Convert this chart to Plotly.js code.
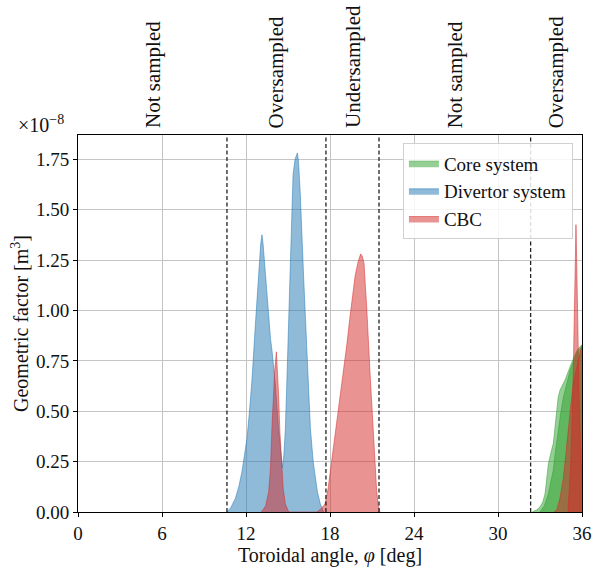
<!DOCTYPE html>
<html>
<head>
<meta charset="utf-8">
<script src="https://cdn.plot.ly/plotly-3.0.1.min.js"></script>
<style>
  html, body { margin: 0; padding: 0; background: #ffffff; }
  #chart { width: 593px; height: 572px; }
</style>
</head>
<body>
<div id="chart"></div>
<script>
// Values of the geometric factor are in units of 1e-8 m^3
// Core system (two overlapping lines of sight)
var coreAx = [32.45, 32.75, 33.0, 33.2, 33.36, 33.5, 33.6, 33.8, 33.95, 34.1, 34.19, 34.3, 34.43, 34.6, 34.79, 35.14, 35.4, 35.62, 35.85, 36.0];
var coreAy = [0, 0.01, 0.025, 0.05, 0.09, 0.17, 0.24, 0.30, 0.34, 0.44, 0.506, 0.57, 0.605, 0.63, 0.655, 0.72, 0.76, 0.80, 0.82, 0.829];
var coreBx = [33.0, 33.3, 33.6, 33.8, 33.95, 34.1, 34.31, 34.5, 34.67, 34.9, 35.14, 35.4, 35.62, 35.85, 36.0];
var coreBy = [0, 0.03, 0.09, 0.15, 0.21, 0.30, 0.42, 0.50, 0.57, 0.64, 0.70, 0.75, 0.79, 0.81, 0.82];

// Divertor system
var divX = [10.62, 10.9, 11.24, 11.5, 11.71, 11.9, 12.07, 12.25, 12.43, 12.67, 12.9, 13.05, 13.14, 13.22, 13.38, 13.62, 13.75, 13.86, 14.1, 14.33, 14.5, 14.6, 14.7, 14.81, 14.95, 15.05, 15.16, 15.28, 15.36, 15.5, 15.62, 15.67, 15.75, 15.88, 16.12, 16.36, 16.6, 16.8, 16.95, 17.1, 17.31, 17.55];
var divY = [0, 0.02, 0.067, 0.13, 0.20, 0.28, 0.365, 0.50, 0.66, 0.93, 1.19, 1.33, 1.376, 1.33, 1.19, 0.945, 0.86, 0.80, 0.63, 0.41, 0.27, 0.22, 0.28, 0.41, 0.72, 0.95, 1.2, 1.5, 1.674, 1.75, 1.775, 1.782, 1.74, 1.575, 1.16, 0.746, 0.415, 0.25, 0.166, 0.10, 0.04, 0];

// CBC
var cbcX = [13.1, 13.4, 13.62, 13.75, 13.86, 13.95, 14.05, 14.17, 14.25, 14.33, 14.42, 14.52, 14.65, 14.81, 15.05, 17.05, 17.35, 17.64, 17.85, 18.0, 18.25, 18.48, 18.7, 18.95, 19.2, 19.43, 19.6, 19.79, 20.0, 20.19, 20.3, 20.43, 20.52, 20.62, 20.86, 21.1, 21.33, 21.45, 21.57];
var cbcY = [0, 0.03, 0.10, 0.22, 0.43, 0.58, 0.70, 0.795, 0.70, 0.58, 0.40, 0.25, 0.12, 0.04, 0, 0, 0.015, 0.04, 0.11, 0.19, 0.32, 0.44, 0.56, 0.69, 0.83, 0.97, 1.07, 1.17, 1.24, 1.281, 1.27, 1.235, 1.13, 1.02, 0.69, 0.357, 0.108, 0.03, 0];
var cbcBroadX = [34.0, 34.19, 34.4, 34.67, 34.85, 35.02, 35.2, 35.38, 35.55, 35.76, 35.9, 36.0];
var cbcBroadY = [0, 0.01, 0.06, 0.17, 0.29, 0.42, 0.53, 0.64, 0.70, 0.76, 0.80, 0.83];
var cbcSharpX = [35.0, 35.2, 35.35, 35.45, 35.52, 35.57, 35.62, 35.7, 35.8, 35.9, 36.0];
var cbcSharpY = [0, 0.25, 0.6, 0.95, 1.3, 1.426, 1.25, 0.9, 0.55, 0.3, 0.15];

// Sampling region boundaries [deg] and region labels
var boundaries = [10.64, 17.71, 21.5, 32.33];
var regionLabels = ['Not sampled', 'Oversampled', 'Undersampled', 'Not sampled', 'Oversampled'];

// Axis ticks
var xTicks = [0, 6, 12, 18, 24, 30, 36];
var yTicks = [0, 0.25, 0.5, 0.75, 1.0, 1.25, 1.5, 1.75];
var yMax = 1.871;

var FONT = 'Liberation Serif, Times New Roman, serif';
var GREEN = 'rgba(44,160,44,0.5)';
var BLUE = 'rgba(31,119,180,0.5)';
var RED = 'rgba(214,39,40,0.5)';

function fillTrace(x, y, color, name, group, show) {
  return {
    x: x, y: y, type: 'scatter', mode: 'lines', fill: 'tozeroy',
    fillcolor: color, line: {color: color, width: 1},
    name: name, legendgroup: group, showlegend: show, hoverinfo: 'skip'
  };
}

var traces = [
  fillTrace(coreAx, coreAy, GREEN, 'Core system', 'core', true),
  fillTrace(coreBx, coreBy, GREEN, 'Core system', 'core', false),
  fillTrace(divX, divY, BLUE, 'Divertor system', 'div', true),
  fillTrace(cbcX, cbcY, RED, 'CBC', 'cbc', true),
  fillTrace(cbcBroadX, cbcBroadY, RED, 'CBC', 'cbc', false),
  fillTrace(cbcSharpX, cbcSharpY, RED, 'CBC', 'cbc', false)
];

var shapes = boundaries.map(function (b) {
  return {type: 'line', xref: 'x', yref: 'paper', x0: b, x1: b, y0: 0, y1: 1,
          layer: 'above', line: {color: '#222222', width: 1.3, dash: '4px,2.5px'}};
});

var edges = [0].concat(boundaries).concat([36]);
var annotations = regionLabels.map(function (t, i) {
  return {text: t, xref: 'x', yref: 'paper', x: (edges[i] + edges[i + 1]) / 2, y: 1,
          xanchor: 'center', yanchor: 'bottom', yshift: 5, textangle: -90, showarrow: false,
          font: {family: FONT, size: 21, color: '#111111'}};
});
annotations.push({text: '×10<sup>−8</sup>', xref: 'paper', yref: 'paper', x: -0.123, y: 1,
  xanchor: 'left', yanchor: 'bottom', yshift: -3, showarrow: false,
  font: {family: FONT, size: 20, color: '#111111'}});
// x-axis title placed at the reference position
annotations.push({text: 'Toroidal angle, <i>φ</i> [deg]', xref: 'paper', yref: 'paper', x: 0.5, y: -0.116,
  xanchor: 'center', yanchor: 'middle', showarrow: false,
  font: {family: FONT, size: 20, color: '#111111'}});

var layout = {
  width: 593, height: 572,
  margin: {l: 78, r: 11, t: 135, b: 60, pad: 0},
  paper_bgcolor: '#ffffff', plot_bgcolor: '#ffffff',
  showlegend: true,
  legend: {x: 0.982, y: 0.978, xanchor: 'right', yanchor: 'top',
           bgcolor: 'rgba(255,255,255,0.85)', bordercolor: '#d0d0d0', borderwidth: 1,
           font: {family: FONT, size: 19, color: '#111111'}, traceorder: 'normal'},
  xaxis: {range: [0, 36], tickvals: xTicks, ticktext: xTicks.map(String),
          showgrid: true, gridcolor: '#c4c4c4', gridwidth: 1, zeroline: false,
          showline: true, linecolor: '#000000', linewidth: 1, mirror: true,
          ticks: 'outside', ticklen: 4, tickcolor: '#000000',
          tickfont: {family: FONT, size: 19, color: '#111111'}},
  yaxis: {range: [0, yMax], tickvals: yTicks, ticktext: yTicks.map(function (v) { return v.toFixed(2); }),
          showgrid: true, gridcolor: '#c4c4c4', gridwidth: 1, zeroline: false,
          showline: true, linecolor: '#000000', linewidth: 1, mirror: true,
          ticks: 'outside', ticklen: 4, tickcolor: '#000000',
          tickfont: {family: FONT, size: 19, color: '#111111'},
          title: {text: 'Geometric factor [m<sup>3</sup>]', font: {family: FONT, size: 20, color: '#111111'}}},
  shapes: shapes,
  annotations: annotations
};

Plotly.newPlot('chart', traces, layout, {displayModeBar: false, staticPlot: true});
</script>
</body>
</html>
